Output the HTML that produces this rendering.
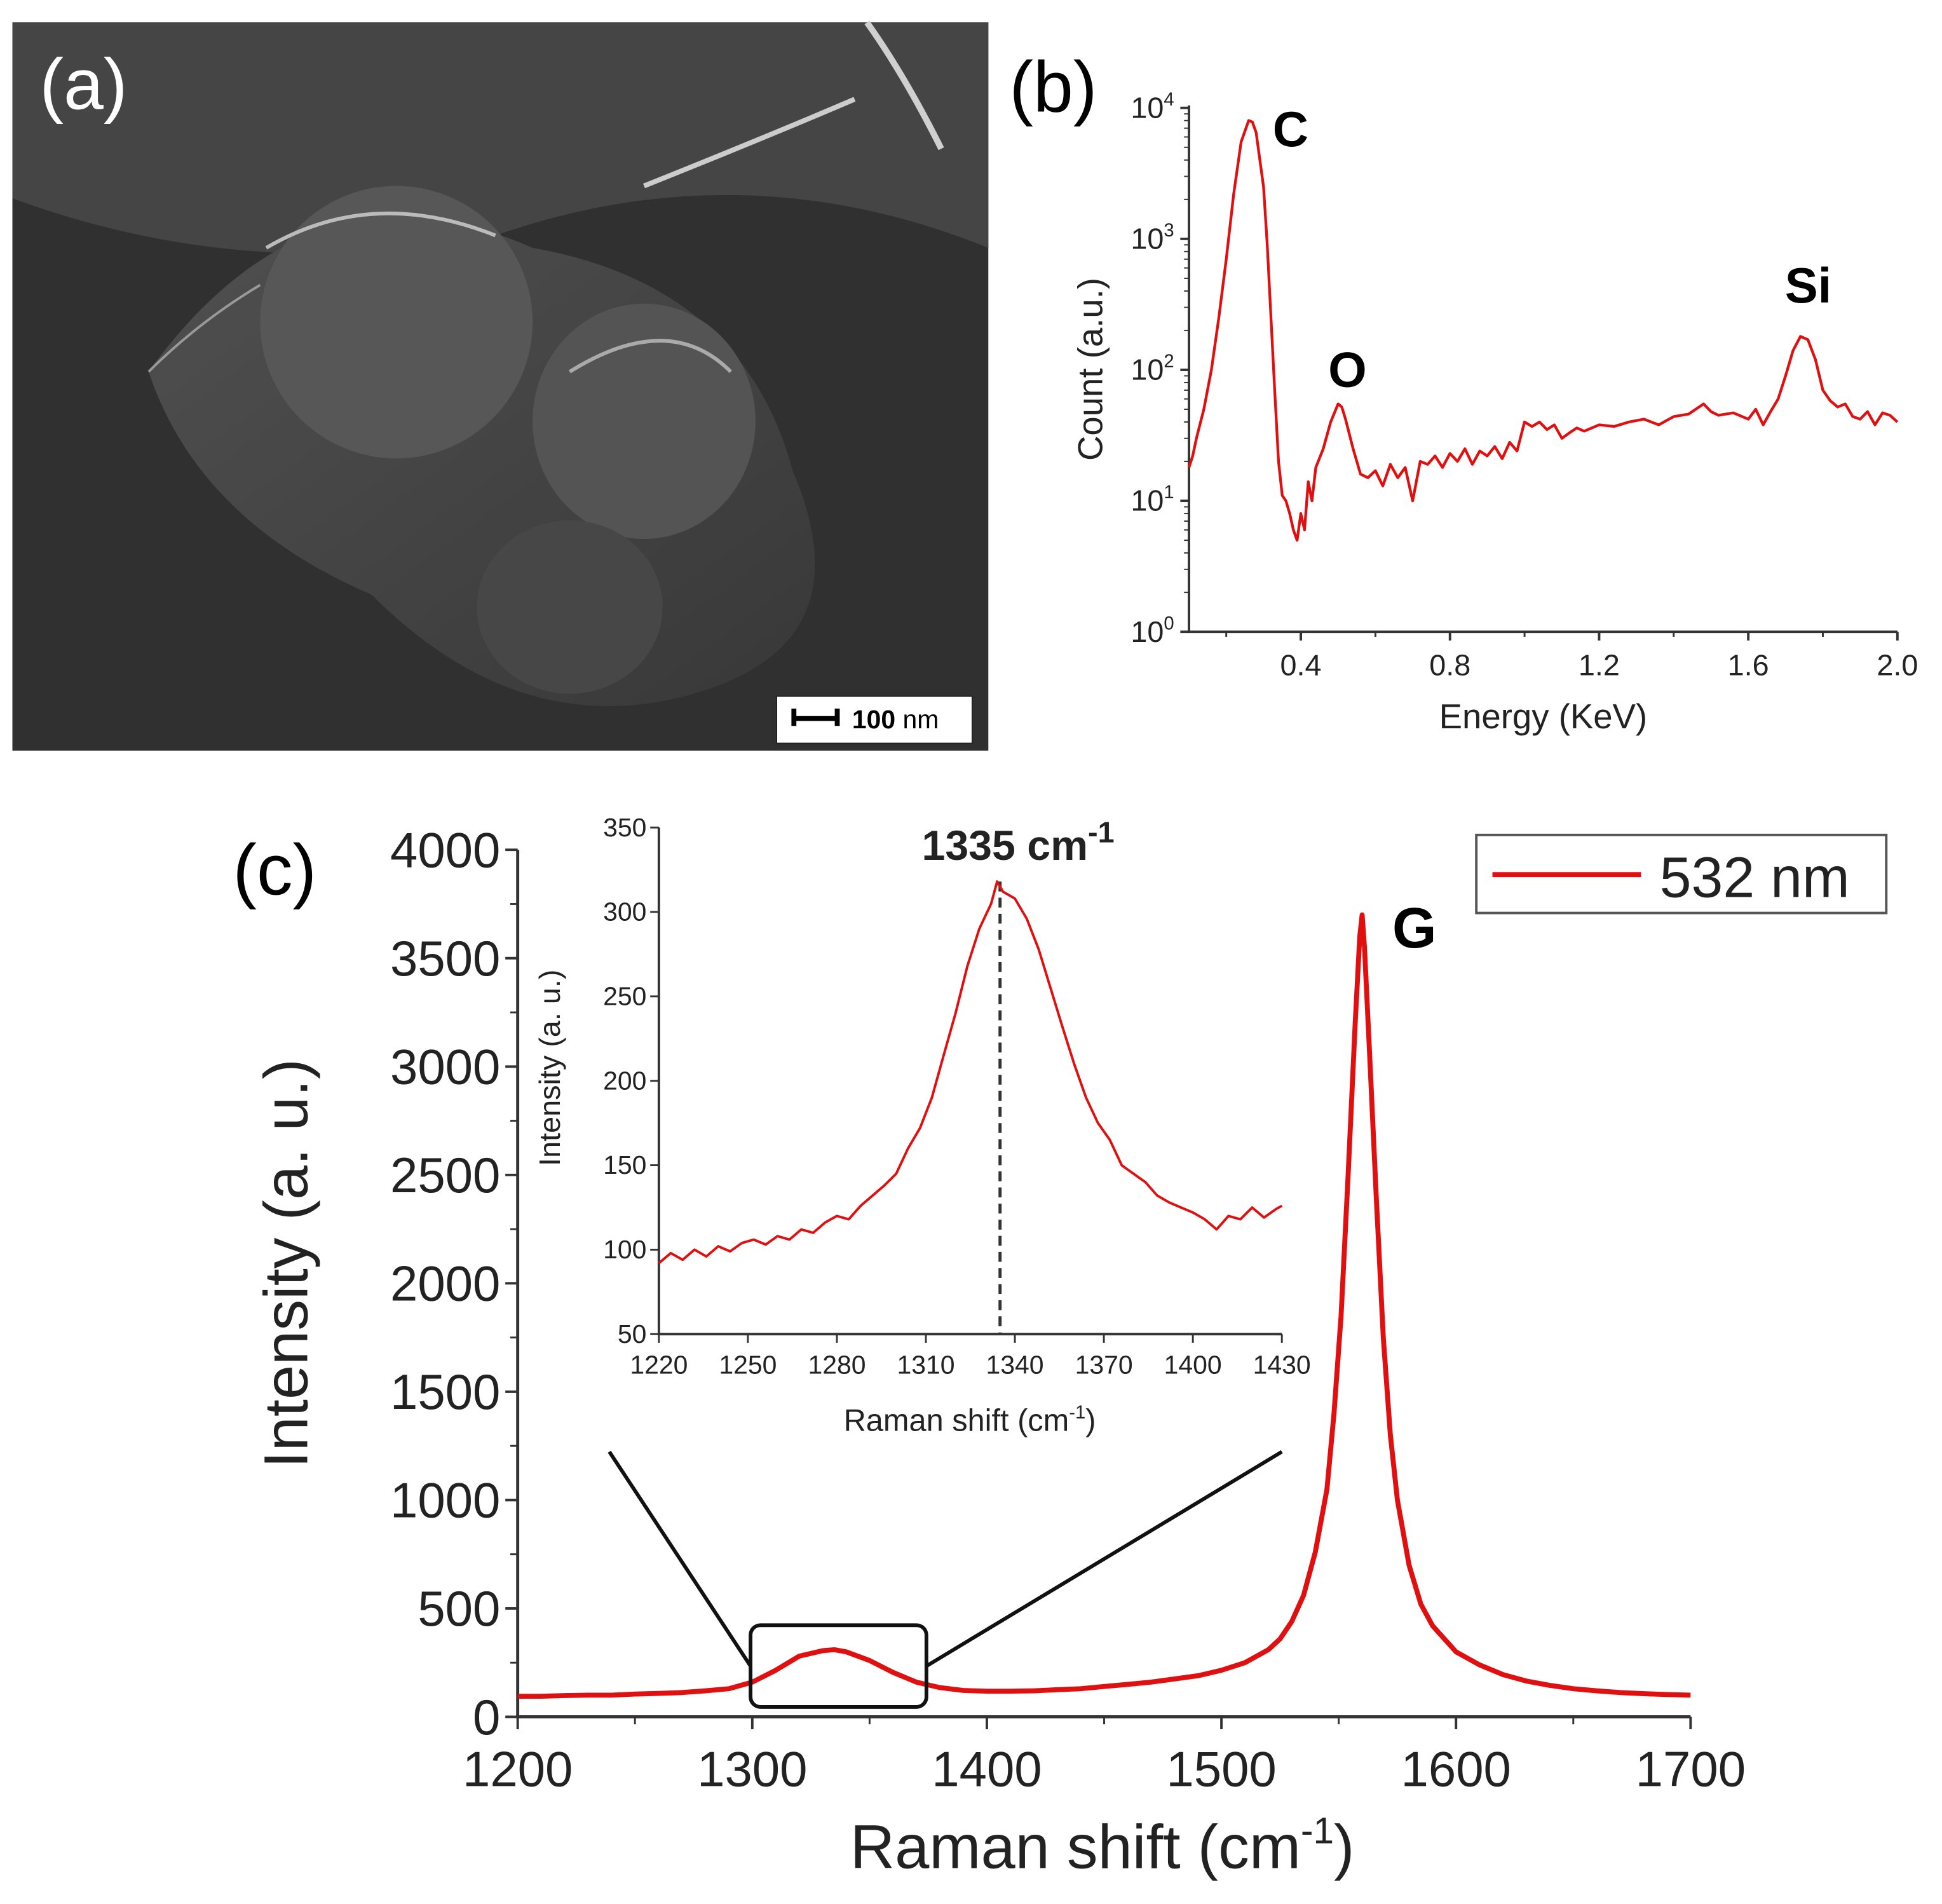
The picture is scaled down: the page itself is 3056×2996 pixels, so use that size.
<!DOCTYPE html>
<html><head><meta charset="utf-8">
<style>
html,body{margin:0;padding:0;background:#fff;}
svg{display:block;font-family:"Liberation Sans",Arial,sans-serif;}
</style></head>
<body>
<svg id="fig" width="3056" height="2996" viewBox="0 0 1568 1537" xmlns="http://www.w3.org/2000/svg">
<defs>
<linearGradient id="g2" x1="0" y1="0" x2="1" y2="1"><stop offset="0" stop-color="#505050"/><stop offset="1" stop-color="#383838"/></linearGradient>
</defs>
<g>
<rect x="10" y="18" width="788" height="588" fill="#303030"/>
<path d="M10 18 L798 18 L798 200 Q600 120 400 190 Q200 230 10 160 Z" fill="#454545"/>
<path d="M120 300 Q250 120 430 200 Q600 230 640 380 Q700 520 560 560 Q420 600 300 480 Q160 420 120 300 Z" fill="url(#g2)"/>
<ellipse cx="320" cy="260" rx="110" ry="110" fill="#575757"/>
<ellipse cx="520" cy="340" rx="90" ry="95" fill="#545454"/>
<ellipse cx="460" cy="490" rx="75" ry="70" fill="#474747"/>
<path d="M215 200 Q300 150 400 190" stroke="#bbb" stroke-width="3" fill="none"/>
<path d="M460 300 Q540 250 590 300" stroke="#aaa" stroke-width="3" fill="none"/>
<path d="M520 150 Q620 110 690 80" stroke="#ccc" stroke-width="4" fill="none"/>
<path d="M700 18 Q730 60 760 120" stroke="#d0d0d0" stroke-width="5" fill="none"/>
<path d="M120 300 Q160 260 210 230" stroke="#999" stroke-width="2" fill="none"/>
</g>
<text x="32" y="88" font-size="58" fill="#fff">(a)</text>
<g>
<rect x="627" y="562" width="158" height="38" fill="#fff" stroke="#222"/>
<path d="M641 572 V586 M641 580 H676 M676 572 V586" stroke="#000" stroke-width="4" fill="none"/>
<text x="688" y="588" font-size="21" font-weight="bold" fill="#000">100 <tspan font-weight="normal">nm</tspan></text>
</g>

<text x="815" y="90" font-size="58" fill="#000">(b)</text>
<g id="eds"></g>

<text x="188" y="722" font-size="58" fill="#000">(c)</text>
<g id="raman"></g>
</svg>
<script>
const edsEnergy = [0.1,0.11,0.12,0.14,0.16,0.18,0.2,0.22,0.24,0.26,0.27,0.28,0.3,0.31,0.32,0.33,0.34,0.35,0.36,0.37,0.38,0.39,0.4,0.41,0.42,0.43,0.44,0.46,0.48,0.5,0.51,0.52,0.54,0.56,0.58,0.6,0.62,0.64,0.66,0.68,0.7,0.72,0.74,0.76,0.78,0.8,0.82,0.84,0.86,0.88,0.9,0.92,0.94,0.96,0.98,1.0,1.02,1.04,1.06,1.08,1.1,1.12,1.14,1.16,1.2,1.24,1.28,1.32,1.36,1.4,1.44,1.48,1.5,1.52,1.56,1.6,1.62,1.64,1.66,1.68,1.7,1.72,1.74,1.76,1.78,1.8,1.82,1.84,1.86,1.88,1.9,1.92,1.94,1.96,1.98,2.0];
const edsCount = [18,22,30,50,100,250,700,2200,5500,8000,7800,6500,2500,900,250,70,20,11,10,8,6,5,8,6,14,10,18,25,40,55,52,42,25,16,15,17,13,19,15,18,10,20,19,22,18,23,20,25,19,24,22,26,21,28,24,40,37,40,35,38,30,33,36,34,38,37,40,42,38,44,46,55,48,45,47,42,50,38,48,60,90,140,180,170,120,70,58,52,55,44,42,48,38,47,45,40];
const edsXTicks = [0.4,0.8,1.2,1.6,2.0];
const edsYDecades = [0,1,2,3,4];
const ramanShift = [1200,1210,1220,1230,1240,1250,1260,1270,1280,1290,1300,1310,1320,1330,1335,1340,1350,1360,1370,1380,1390,1400,1410,1420,1430,1440,1450,1460,1470,1480,1490,1500,1510,1520,1525,1530,1535,1540,1545,1548,1551,1554,1557,1559,1560,1561,1563,1566,1569,1572,1575,1580,1585,1590,1600,1610,1620,1630,1640,1650,1660,1670,1680,1690,1700];
const ramanIntensity = [95,95,98,100,100,105,108,112,120,130,160,215,280,305,310,300,260,205,160,135,122,118,118,120,125,130,140,150,160,175,190,215,250,310,360,440,560,760,1050,1400,1850,2500,3200,3600,3700,3550,3100,2400,1750,1300,1000,700,520,420,300,240,195,165,145,130,120,112,107,103,100];
const ramanXTicks = [1200,1300,1400,1500,1600,1700];
const ramanYTicks = [0,500,1000,1500,2000,2500,3000,3500,4000];
const insetShift = [1220,1224,1228,1232,1236,1240,1244,1248,1252,1256,1260,1264,1268,1272,1276,1280,1284,1288,1292,1296,1300,1304,1308,1312,1316,1320,1324,1328,1332,1334,1336,1340,1344,1348,1352,1356,1360,1364,1368,1372,1376,1380,1384,1388,1392,1396,1400,1404,1408,1412,1416,1420,1424,1428,1430];
const insetIntensity = [92,98,94,100,96,102,99,104,106,103,108,106,112,110,116,120,118,126,132,138,145,160,172,190,215,240,268,290,305,318,312,308,296,278,255,232,210,190,175,165,150,145,140,132,128,125,122,118,112,120,118,125,119,124,126];
const insetXTicks = [1220,1250,1280,1310,1340,1370,1400,1430];
const insetYTicks = [50,100,150,200,250,300,350];

const NS='http://www.w3.org/2000/svg';
function mk(parent,tag,attrs,text){const e=document.createElementNS(NS,tag);for(const k in attrs)e.setAttribute(k,attrs[k]);if(text!==undefined)e.textContent=text;parent.appendChild(e);return e;}

(function(){
  const g=document.getElementById('eds');
  const x0=960,x1=1532,y0=510,y1=87, emin=0.1, emax=2.0;
  const sx=v=>x0+(v-emin)/(emax-emin)*(x1-x0);
  const sy=v=>y0-(Math.log10(Math.max(v,1)))/4*(y0-y1);
  const ax=mk(g,'path',{d:`M${x0} ${y1-2} V${y0} H${x1}`,stroke:'#333','stroke-width':2,fill:'none'});
  
  
  edsXTicks.forEach(t=>{
    mk(g,'line',{x1:sx(t),x2:sx(t),y1:y0,y2:y0+7,stroke:'#333','stroke-width':2});
    const lb=mk(g,'text',{x:sx(t),y:y0+35,'font-size':24,'text-anchor':'middle',fill:'#222'},t.toFixed(1));
    
    
  });
  for(let t=0.2;t<2.0;t+=0.4){mk(g,'line',{x1:sx(t),x2:sx(t),y1:y0,y2:y0+4,stroke:'#333','stroke-width':1.5});}
  edsYDecades.forEach(d=>{
    const y=sy(Math.pow(10,d));
    mk(g,'line',{x1:x0-7,x2:x0,y1:y,y2:y,stroke:'#333','stroke-width':2});
    if(d<4)for(let m=2;m<10;m++){const yy=sy(m*Math.pow(10,d));mk(g,'line',{x1:x0-4,x2:x0,y1:yy,y2:yy,stroke:'#333','stroke-width':1});}
    const lb=mk(g,'text',{x:x0-12,y:y+8,'font-size':24,'text-anchor':'end',fill:'#222'});
    
    
    lb.innerHTML='10<tspan dy="-10" font-size="15">'+d+'</tspan>';
  });
  const pts=edsEnergy.map((e,i)=>sx(e).toFixed(1)+','+sy(edsCount[i]).toFixed(1)).join(' ');
  const ln=mk(g,'polyline',{points:pts,fill:'none',stroke:'#e01010','stroke-width':2.2,'stroke-linejoin':'round'});
  
  
  const xt=mk(g,'text',{x:1246,y:588,'font-size':28,'text-anchor':'middle',fill:'#222'},'Energy (KeV)');
  
  
  const yt=mk(g,'text',{x:0,y:0,'font-size':28,'text-anchor':'middle',fill:'#222',transform:'translate(890,298) rotate(-90)'},'Count (a.u.)');
  
  
  [['C',1042,118],['O',1088,312],['Si',1460,244]].forEach(p=>{
    const t=mk(g,'text',{x:p[1],y:p[2],'font-size':40,'font-weight':'bold','text-anchor':'middle',fill:'#000'},p[0]);
    
    
  });
})();

(function(){
  const g=document.getElementById('raman');
  const x0=418,x1=1365,y0=1386,y1=686;
  const sx=v=>x0+(v-1200)/500*(x1-x0);
  const sy=v=>y0-v/4000*(y0-y1);
  const ax=mk(g,'path',{d:`M${x0} ${y1} V${y0} H${x1}`,stroke:'#333','stroke-width':2.5,fill:'none'});
  
  
  ramanXTicks.forEach(t=>{
    mk(g,'line',{x1:sx(t),x2:sx(t),y1:y0,y2:y0+10,stroke:'#333','stroke-width':2});
    const lb=mk(g,'text',{x:sx(t),y:y0+56,'font-size':40,'text-anchor':'middle',fill:'#222'},t);
    
    
  });
  for(let t=1250;t<1700;t+=100)mk(g,'line',{x1:sx(t),x2:sx(t),y1:y0,y2:y0+6,stroke:'#333','stroke-width':1.5});
  ramanYTicks.forEach(t=>{
    mk(g,'line',{x1:x0-10,x2:x0,y1:sy(t),y2:sy(t),stroke:'#333','stroke-width':2});
    if(t<4000)mk(g,'line',{x1:x0-6,x2:x0,y1:sy(t+250),y2:sy(t+250),stroke:'#333','stroke-width':1.5});
    const lb=mk(g,'text',{x:x0-14,y:sy(t)+14,'font-size':40,'text-anchor':'end',fill:'#222'},t);
    
    
  });
  const xt=mk(g,'text',{x:890,y:1508,'font-size':50,'text-anchor':'middle',fill:'#222'});
  xt.innerHTML='Raman shift (cm<tspan dy="-20" font-size="30">-1</tspan><tspan dy="20">)</tspan>';
  
  
  const yt=mk(g,'text',{x:0,y:0,'font-size':50,'text-anchor':'middle',fill:'#222',transform:'translate(248,1020) rotate(-90)'},'Intensity (a. u.)');
  
  
  const pts=ramanShift.map((e,i)=>sx(e).toFixed(1)+','+sy(ramanIntensity[i]).toFixed(1)).join(' ');
  const ln=mk(g,'polyline',{points:pts,fill:'none',stroke:'#e01010','stroke-width':4,'stroke-linejoin':'round'});
  
  
  const gl=mk(g,'text',{x:1142,y:765,'font-size':46,'font-weight':'bold','text-anchor':'middle',fill:'#000'},'G');
  
  
  const zb=mk(g,'rect',{x:606,y:1312,width:142,height:66,rx:8,fill:'none',stroke:'#111','stroke-width':3});
  
  
  mk(g,'line',{x1:492,y1:1172,x2:606,y2:1345,stroke:'#111','stroke-width':3});
  mk(g,'line',{x1:1035,y1:1172,x2:748,y2:1345,stroke:'#111','stroke-width':3});
  const lg=mk(g,'g',{});
  
  
  mk(lg,'rect',{x:1192,y:674,width:331,height:63,fill:'#fff',stroke:'#555','stroke-width':2});
  mk(lg,'line',{x1:1205,x2:1325,y1:706,y2:706,stroke:'#e01010','stroke-width':4});
  mk(lg,'text',{x:1340,y:724,'font-size':46,fill:'#222'},'532 nm');

  const ix0=532,ix1=1035,iy0=1077,iy1=668;
  const isx=v=>ix0+(v-1220)/210*(ix1-ix0);
  const isy=v=>iy0-(v-50)/300*(iy0-iy1);
  const ig=mk(g,'g',{});
  
  
  mk(ig,'path',{d:`M${ix0} ${iy1} V${iy0} H${ix1}`,stroke:'#333','stroke-width':2,fill:'none'});
  insetXTicks.forEach(t=>{
    mk(ig,'line',{x1:isx(t),x2:isx(t),y1:iy0,y2:iy0+7,stroke:'#333','stroke-width':1.5});
    const lb=mk(ig,'text',{x:isx(t),y:iy0+32,'font-size':21,'text-anchor':'middle',fill:'#222'},t);
    
    
  });
  insetYTicks.forEach(t=>{
    mk(ig,'line',{x1:ix0-7,x2:ix0,y1:isy(t),y2:isy(t),stroke:'#333','stroke-width':1.5});
    const lb=mk(ig,'text',{x:ix0-10,y:isy(t)+7,'font-size':21,'text-anchor':'end',fill:'#222'},t);
    
    
  });
  const ixt=mk(ig,'text',{x:783,y:1155,'font-size':25,'text-anchor':'middle',fill:'#222'});
  ixt.innerHTML='Raman shift (cm<tspan dy="-10" font-size="15">-1</tspan><tspan dy="10">)</tspan>';
  
  
  const iyt=mk(ig,'text',{x:0,y:0,'font-size':24,'text-anchor':'middle',fill:'#222',transform:'translate(452,862) rotate(-90)'},'Intensity (a. u.)');
  
  
  const dl=mk(ig,'line',{x1:isx(1335),x2:isx(1335),y1:isy(318),y2:iy0,stroke:'#333','stroke-width':2.5,'stroke-dasharray':'8,5'});
  
  
  const ipts=insetShift.map((e,i)=>isx(e).toFixed(1)+','+isy(insetIntensity[i]).toFixed(1)).join(' ');
  const il=mk(ig,'polyline',{points:ipts,fill:'none',stroke:'#e01010','stroke-width':2,'stroke-linejoin':'round'});
  
  
  const pl=mk(ig,'text',{x:822,y:694,'font-size':34,'font-weight':'bold','text-anchor':'middle',fill:'#222'});
  pl.innerHTML='1335 cm<tspan dy="-14" font-size="24">-1</tspan>';
  
  
})();
</script>
</body></html>
